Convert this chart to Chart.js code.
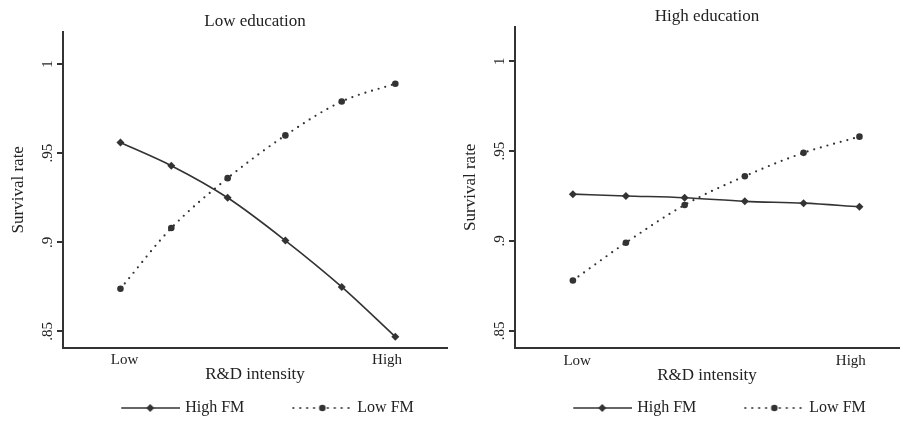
<!DOCTYPE html>
<html>
<head>
<meta charset="utf-8">
<script src="https://cdn.jsdelivr.net/npm/chart.js@4.4.1/dist/chart.umd.min.js"></script>
<style>
  html, body { margin: 0; padding: 0; background: #fff; }
  .panel { position: absolute; top: 0; height: 426px; }
</style>
</head>
<body>
<div class="panel" style="left:0;width:451px"><canvas id="lowEdu"></canvas></div>
<div class="panel" style="left:450px;width:453px"><canvas id="highEdu"></canvas></div>
<script>
// R&D intensity positions of the six predicted points (Low .. High)
const rdIntensity = [0, 0.185, 0.39, 0.6, 0.805, 1];
const xTickValues = [0.015, 0.97];
const xTickLabels = ['Low', 'High'];
const yTickValues = [0.85, 0.9, 0.95, 1];
const yTickLabels = ['.85', '.9', '.95', '1'];
const seriesNames = ['High FM', 'Low FM'];

// Low education panel
const lowEduHighFM = [0.956, 0.943, 0.925, 0.901, 0.875, 0.847];
const lowEduLowFM  = [0.874, 0.908, 0.936, 0.960, 0.979, 0.989];

// High education panel
const highEduHighFM = [0.926, 0.925, 0.924, 0.922, 0.921, 0.919];
const highEduLowFM  = [0.878, 0.899, 0.920, 0.936, 0.949, 0.958];

const FONT = "'Liberation Serif', 'Times New Roman', serif";
const INK = '#333';
const TEXT = '#222';

// legend icons: transparent lead-in, then a 60px line with the marker in the middle
const LEG_PAD = 24;
const LEAD = 27;
const ICON_W = LEAD + 60;
const BOX_W = ICON_W - 6;   // image overhangs the box so the text sits close to the line

function legendIcon(dotted) {
  const c = document.createElement('canvas');
  c.width = ICON_W; c.height = 12;
  const g = c.getContext('2d');
  g.strokeStyle = INK; g.fillStyle = INK;
  const y = 6, x0 = LEAD, x1 = LEAD + 60, mid = LEAD + 30;
  if (dotted) {
    g.lineWidth = 2.2; g.lineCap = 'round';
    g.setLineDash([0, 6.9]);
  } else {
    g.lineWidth = 1.6;
  }
  g.beginPath(); g.moveTo(x0 + 1, y); g.lineTo(x1, y); g.stroke();
  g.setLineDash([]);
  g.beginPath();
  if (dotted) {
    g.arc(mid, y, 3.3, 0, Math.PI * 2);
  } else {
    g.moveTo(mid - 4, y); g.lineTo(mid, y - 4); g.lineTo(mid + 4, y); g.lineTo(mid, y + 4); g.closePath();
  }
  g.fill();
  return c;
}
const icons = [legendIcon(false), legendIcon(true)];

function toXY(vals) {
  return vals.map((v, i) => ({ x: rdIntensity[i], y: v }));
}

function drawPanel(id, title, highFM, lowFM, lay) {
  const ctx = document.getElementById(id).getContext('2d');
  return new Chart(ctx, {
    type: 'line',
    data: {
      datasets: [
        {
          label: seriesNames[0],
          data: toXY(highFM),
          xAxisID: 'x', yAxisID: 'y',
          borderColor: INK, backgroundColor: INK,
          borderWidth: 1.6,
          pointStyle: 'rectRot', pointRadius: 4,
          pointBorderWidth: 0,
          cubicInterpolationMode: 'monotone',
          fill: false
        },
        {
          label: seriesNames[1],
          data: toXY(lowFM),
          xAxisID: 'x', yAxisID: 'y',
          borderColor: INK, backgroundColor: INK,
          borderWidth: 2.2,
          borderDash: [0, 6.9],
          borderCapStyle: 'round',
          pointStyle: 'circle', pointRadius: 3.3,
          pointBorderWidth: 0,
          cubicInterpolationMode: 'monotone',
          fill: false
        }
      ]
    },
    options: {
      responsive: true,
      maintainAspectRatio: false,
      animation: false,
      layout: { padding: { top: lay.padTop, left: lay.padLeft, right: 1, bottom: 0 } },
      scales: {
        x: {
          type: 'linear',
          position: 'bottom',
          min: lay.xMin, max: lay.xMax,
          afterBuildTicks: axis => { axis.ticks = xTickValues.map(v => ({ value: v })); },
          ticks: {
            callback: (v, i) => xTickLabels[i],
            color: TEXT, padding: lay.xTickPad, maxRotation: 0, autoSkip: false,
            font: { family: FONT, size: 15, lineHeight: 1 }
          },
          grid: { display: true, drawOnChartArea: false, drawTicks: false },
          border: { display: true, color: INK, width: 2 },
          title: {
            display: true, text: 'R&D intensity', color: TEXT,
            font: { family: FONT, size: 17, lineHeight: 1 },
            padding: { top: lay.xTitleTop, bottom: lay.xTitleBottom }
          }
        },
        top: {
          type: 'linear',
          position: 'top',
          ticks: { display: false },
          grid: { display: false, drawTicks: false },
          border: { display: false },
          title: {
            display: true, text: title, color: TEXT,
            font: { family: FONT, size: 17, lineHeight: 1 },
            padding: { top: 0, bottom: 1.5 }
          }
        },
        y: {
          type: 'linear',
          position: 'left',
          min: lay.yMin, max: lay.yMax,
          afterBuildTicks: axis => { axis.ticks = yTickValues.map(v => ({ value: v })); },
          ticks: {
            callback: (v, i) => yTickLabels[i],
            color: TEXT, padding: 0,
            minRotation: 90, maxRotation: 90,
            crossAlign: 'center',
            font: { family: FONT, size: 15, lineHeight: 1 }
          },
          grid: { display: true, drawOnChartArea: false, drawTicks: true, tickLength: 6, tickWidth: 2, tickColor: INK, color: INK, lineWidth: 2 },
          border: { display: true, color: INK, width: 2 },
          title: {
            display: true, text: 'Survival rate', color: TEXT,
            font: { family: FONT, size: 17, lineHeight: 1 },
            padding: { top: 6, bottom: 14.5 }
          }
        }
      },
      plugins: {
        title: { display: false },
        tooltip: { enabled: false },
        legend: {
          display: true,
          position: 'bottom',
          fullSize: false,
          labels: {
            usePointStyle: true,
            pointStyleWidth: BOX_W,
            padding: LEG_PAD,
            color: TEXT,
            font: { family: FONT, size: 16 },
            generateLabels: () => seriesNames.map((name, i) => ({
              text: name,
              pointStyle: icons[i],
              fillStyle: INK,
              strokeStyle: INK,
              lineWidth: 0,
              fontColor: TEXT,
              hidden: false,
              datasetIndex: i
            }))
          }
        }
      }
    }
  });
}

drawPanel('lowEdu', 'Low education', lowEduHighFM, lowEduLowFM, {
  padTop: 13.5, padLeft: 4.5,
  xMin: -0.209, xMax: 1.188, yMin: 0.841, yMax: 1.018,
  xTickPad: 5, xTitleTop: -6, xTitleBottom: -7.5
});
drawPanel('highEdu', 'High education', highEduHighFM, highEduLowFM, {
  padTop: 8.5, padLeft: 6.5,
  xMin: -0.202, xMax: 1.138, yMin: 0.8407, yMax: 1.019,
  xTickPad: 6, xTitleTop: -7, xTitleBottom: -8.5
});
</script>
</body>
</html>
